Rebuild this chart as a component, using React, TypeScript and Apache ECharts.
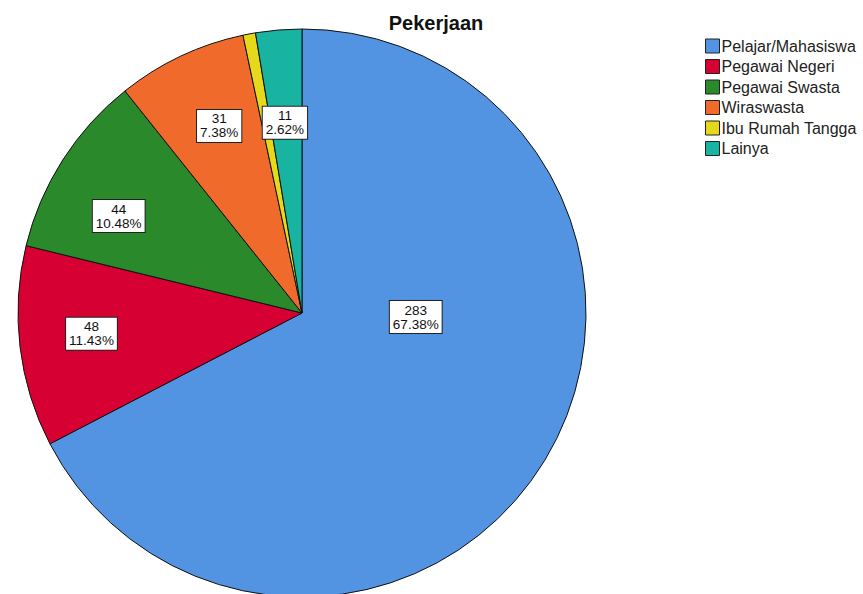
import React, { useEffect, useRef } from "react";
import * as echarts from "echarts";

const categories = [
  "Pelajar/Mahasiswa",
  "Pegawai Negeri",
  "Pegawai Swasta",
  "Wiraswasta",
  "Ibu Rumah Tangga",
  "Lainya",
];
const counts = [283, 48, 44, 31, 3, 11];
const percents = ["67.38%", "11.43%", "10.48%", "7.38%", "0.71%", "2.62%"];
const colors = ["#5394E2", "#D60032", "#2A8A2B", "#F06A2B", "#E6D81A", "#19B3A1"];
const showLabel = [true, true, true, true, false, true];
// small label nudges (px) relative to the library's inside position
const labelNudgeX = [-64, -4, -8, 6, 0, 0];
const labelNudgeY = [-104, -4, 15, 1, 0, 17];

const FONT = "'Liberation Sans', Arial, sans-serif";

export default function App() {
  const ref = useRef<HTMLDivElement>(null);
  useEffect(() => {
    if (!ref.current) return;
    const chart = echarts.init(ref.current, null, { renderer: "svg" });
    const pieData = categories.map((name, i) => ({
      name,
      value: counts[i],
      itemStyle: { color: colors[i] },
    }));
    const labelData = categories.map((name, i) => ({
      name,
      value: counts[i],
      label: { show: showLabel[i] },
    }));
    chart.setOption({
      animation: false,
      title: {
        text: "Pekerjaan",
        left: 431,
        textAlign: "center",
        top: 8,
        textStyle: { fontFamily: FONT, fontSize: 20, fontWeight: "bold", color: "#111" },
      },
      legend: {
        orient: "vertical",
        left: 700,
        top: 31,
        icon: "rect",
        itemWidth: 14,
        itemHeight: 14,
        itemGap: 0.5,
        data: categories,
        selectedMode: false,
        itemStyle: { borderColor: "#222", borderWidth: 1 },
        textStyle: { fontFamily: FONT, fontSize: 16, lineHeight: 20, color: "#222", padding: [0, 0, 0, -3] },
      },
      series: [
        {
          type: "pie",
          center: [302, 313],
          radius: [0, 284],
          startAngle: 90,
          clockwise: true,
          silent: true,
          data: pieData,
          label: { show: false },
          labelLine: { show: false },
          itemStyle: { borderColor: "#111", borderWidth: 1 },
          emphasis: { disabled: true },
        },
        {
          type: "pie",
          center: [302, 313],
          radius: [126, 284],
          startAngle: 90,
          clockwise: true,
          silent: true,
          data: labelData,
          itemStyle: { color: "rgba(0,0,0,0)", borderWidth: 0 },
          emphasis: { disabled: true },
          labelLine: { show: false },
          label: {
            position: "inside",
            formatter: (p: any) => `${counts[p.dataIndex]}\n${percents[p.dataIndex]}`,
            fontFamily: FONT,
            fontSize: 13.5,
            lineHeight: 14,
            color: "#111",
            backgroundColor: "#fff",
            borderColor: "#222",
            borderWidth: 1,
            padding: [2, 3, 2, 3],
            align: "center",
          },
          labelLayout: (params: any) => ({
            dx: labelNudgeX[params.dataIndex],
            dy: labelNudgeY[params.dataIndex],
          }),
        },
      ],
    });
    return () => chart.dispose();
  }, []);
  return (
    <div
      ref={ref}
      style={{ position: "fixed", left: 0, top: 0, width: 863, height: 594, background: "#fff" }}
    />
  );
}
